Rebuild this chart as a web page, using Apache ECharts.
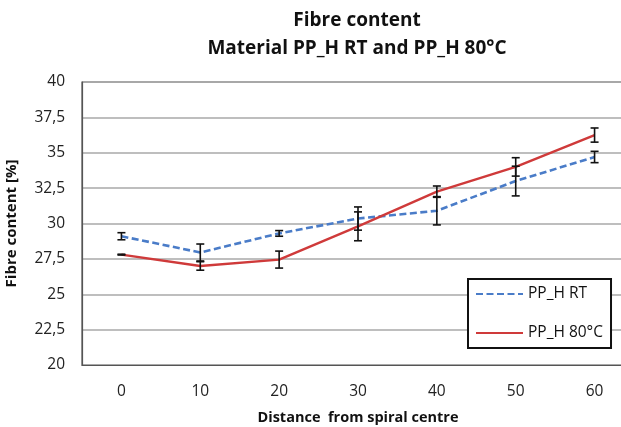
<!DOCTYPE html>
<html><head><meta charset="utf-8">
<script src="https://cdn.jsdelivr.net/npm/echarts@6/dist/echarts.min.js"></script>
<style>html,body{margin:0;padding:0;background:#fff}#c{width:621px;height:427px}</style>
</head><body><div id="c"></div>
<script>
var categories = ['0','10','20','30','40','50','60'];
var rtValues = [29.1, 27.95, 29.3, 30.35, 30.9, 33.0, 34.7];
var rtErrors = [0.25, 0.6, 0.2, 0.82, 1.0, 1.05, 0.4];
var hotValues = [27.8, 27.0, 27.45, 29.8, 32.25, 34.0, 36.25];
var hotErrors = [0.03, 0.3, 0.6, 1.02, 0.4, 0.65, 0.5];
var seriesNames = ['PP_H RT', 'PP_H 80°C'];

var FONT = "'Open Sans', 'Liberation Sans', sans-serif";
function errData(vals, errs){
  return vals.map(function(v,i){ return [i, v - errs[i], v + errs[i]]; });
}
function errRender(params, api){
  var x = api.value(0);
  var lo = api.coord([x, api.value(1)]);
  var hi = api.coord([x, api.value(2)]);
  var hw = 4;
  var st = {stroke:'#111', lineWidth:1.6, fill:null};
  return {type:'group', children:[
    {type:'line', shape:{x1:lo[0],y1:lo[1],x2:hi[0],y2:hi[1]}, style:st},
    {type:'line', shape:{x1:lo[0]-hw,y1:lo[1],x2:lo[0]+hw,y2:lo[1]}, style:st},
    {type:'line', shape:{x1:hi[0]-hw,y1:hi[1],x2:hi[0]+hw,y2:hi[1]}, style:st}
  ]};
}
var chart = echarts.init(document.getElementById('c'), null, {renderer:'canvas'});
chart.setOption({
  animation:false,
  backgroundColor:'#fff',
  textStyle:{fontFamily:FONT},
  title:{
    text:'Fibre content\nMaterial PP_H RT and PP_H 80°C',
    left:352, top:2, textAlign:'center',
    textStyle:{fontFamily:FONT, fontSize:19, fontWeight:'bold', color:'#111', lineHeight:28}
  },
  legend:{
    data:seriesNames,
    orient:'vertical',
    left:468, top:279,
    padding:[7,8,7,7],
    itemGap:23,
    itemWidth:47, itemHeight:14,
    itemStyle:{opacity:0},
    backgroundColor:'#fff',
    borderColor:'#111', borderWidth:2,
    textStyle:{fontFamily:FONT, fontSize:15.5, color:'#111'}
  },
  grid:{show:true, left:82, right:-13, top:82, bottom:62, outerBoundsMode:'none', containLabel:false,
        borderColor:'#555', borderWidth:1.2, backgroundColor:'transparent'},
  xAxis:{
    type:'category', data:categories, boundaryGap:true,
    name:'Distance  from spiral centre', nameLocation:'middle', nameGap:45,
    nameTextStyle:{fontFamily:FONT, fontSize:14.5, fontWeight:'bold', color:'#111'},
    axisLine:{show:true, lineStyle:{color:'#555', width:1.2}},
    axisTick:{show:false},
    axisLabel:{fontFamily:FONT, fontSize:15.5, color:'#222', margin:19},
    splitLine:{show:false}
  },
  yAxis:{
    type:'value', min:20, max:40, interval:2.5,
    name:'Fibre content [%]', nameLocation:'middle', nameGap:63, nameRotate:90,
    nameTextStyle:{fontFamily:FONT, fontSize:15, fontWeight:'bold', color:'#111'},
    axisLine:{show:true, lineStyle:{color:'#555', width:1.2}},
    axisTick:{show:false},
    axisLabel:{fontFamily:FONT, fontSize:15.5, color:'#222', margin:17,
      formatter:function(v){ return String(v).replace('.', ','); }},
    splitLine:{show:true, lineStyle:{color:'#a8a8a8', width:1.5}}
  },
  series:[
    {name:seriesNames[0], type:'line', data:rtValues, showSymbol:false, symbol:'none',
     lineStyle:{color:'#4a7cc8', width:2.6, type:[7,3.5]}, itemStyle:{color:'#4a7cc8'}, z:3},
    {name:seriesNames[1], type:'line', data:hotValues, showSymbol:false, symbol:'none',
     lineStyle:{color:'#cf3a3a', width:2.4, type:'solid'}, itemStyle:{color:'#cf3a3a'}, z:3},
    {type:'custom', name:'errRT', data:errData(rtValues, rtErrors), renderItem:errRender,
     encode:{x:0, y:[1,2]}, z:5, silent:true},
    {type:'custom', name:'errHot', data:errData(hotValues, hotErrors), renderItem:errRender,
     encode:{x:0, y:[1,2]}, z:5, silent:true}
  ]
});
</script></body></html>
